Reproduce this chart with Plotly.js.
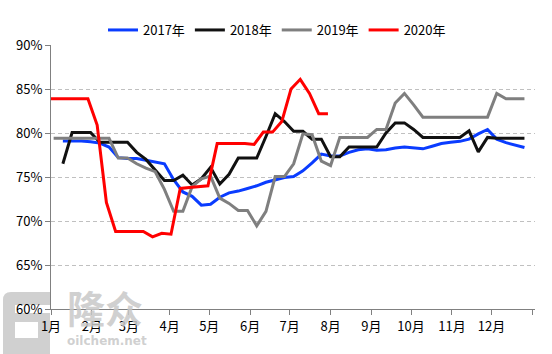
<!DOCTYPE html>
<html>
<head>
<meta charset="utf-8">
<script src="https://cdn.plot.ly/plotly-3.0.1.min.js"></script>
<style>html,body{margin:0;padding:0;background:#fff;}#chart{width:552px;height:354px;}</style>
</head>
<body>
<div id="chart"></div>
<script>
// ---- data (weekly operating rate, %) ----
const seriesNames = ['2017年', '2018年', '2019年', '2020年'];
const monthLabels = ['1月','2月','3月','4月','5月','6月','7月','8月','9月','10月','11月','12月'];
const yTickValues = [60, 65, 70, 75, 80, 85, 90];

const start2017 = '2019-01-10';
const values2017 = [79.1,79.1,79.1,79.0,78.85,78.4,77.2,77.1,77.1,76.9,76.7,76.5,74.7,73.3,72.8,71.8,71.9,72.7,73.2,73.4,
  73.7,74.0,74.4,74.7,74.95,75.05,75.7,76.6,77.6,77.4,77.4,77.8,78.1,78.2,78.05,78.1,78.3,78.4,78.3,78.2,
  78.5,78.8,78.95,79.05,79.3,79.9,80.4,79.3,78.9,78.6,78.35];

const start2018 = '2019-01-10';
const values2018 = [76.5,80.05,80.05,80.05,78.95,78.95,78.95,78.95,77.8,77.0,75.8,74.6,74.6,75.2,74.1,74.8,76.1,74.2,75.3,77.15,
  77.15,77.15,79.6,82.2,81.3,80.2,80.2,79.3,79.3,77.3,77.3,78.4,78.4,78.4,78.4,80.0,81.15,81.15,80.4,79.5,
  79.5,79.5,79.5,79.5,80.25,77.85,79.5,79.4,79.4,79.4,79.4];

const start2019 = '2019-01-03';
const values2019 = [79.4,79.4,79.4,79.4,79.4,79.4,79.4,77.15,77.15,76.5,76.0,75.6,73.6,71.1,71.1,73.9,74.8,75.1,72.6,72.0,
  71.2,71.2,69.45,71.1,75.05,75.05,76.5,79.9,79.8,76.8,76.3,79.5,79.5,79.5,79.5,80.4,80.4,83.4,84.5,83.2,
  81.8,81.8,81.8,81.8,81.8,81.8,81.8,81.8,84.5,83.9,83.9,83.9];

const start2020 = '2019-01-01';
const values2020 = [83.9,83.9,83.9,83.9,83.9,80.9,72.1,68.8,68.8,68.8,68.8,68.2,68.6,68.5,73.7,73.8,73.9,74.0,78.8,78.8,
  78.8,78.8,78.7,80.1,80.1,81.3,85.0,86.1,84.5,82.2,82.2];

const seriesColors = ['#0a3cff', '#111111', '#7f7f7f', '#ff0000'];

// ---- helpers ----
function fmt(d) {
  const y = d.getUTCFullYear();
  const m = String(d.getUTCMonth() + 1).padStart(2, '0');
  const dd = String(d.getUTCDate()).padStart(2, '0');
  return y + '-' + m + '-' + dd;
}
function weeklyDates(start, n) {
  const p = start.split('-').map(Number);
  const out = [];
  for (let i = 0; i < n; i++) out.push(fmt(new Date(Date.UTC(p[0], p[1] - 1, p[2] + 7 * i))));
  return out;
}

const starts = [start2017, start2018, start2019, start2020];
const vals = [values2017, values2018, values2019, values2020];

const traces = vals.map((v, k) => ({
  type: 'scatter', mode: 'lines',
  name: seriesNames[k],
  x: weeklyDates(starts[k], v.length),
  y: v,
  line: { color: seriesColors[k], width: 3 },
  hoverinfo: 'skip'
}));

const tickvals = [];
const ticktext = [];
for (let m = 0; m <= 12; m++) {
  tickvals.push(fmt(new Date(Date.UTC(2019, m, 1))));
  ticktext.push(m < 12 ? monthLabels[m] : '');
}

const font = { family: '"Noto Sans CJK SC", "Noto Sans", sans-serif', size: 13, color: '#000' };
const wmColor = 'rgba(200,200,200,0.85)';

// plot area: left 51px, width 484px, top 45px, height 264px
const L = 51, W = 484, T = 45, H = 264;
const px = x => (x - L) / W;
const py = y => (T + H - y) / H;

const layout = {
  width: 552, height: 354,
  margin: { l: L, r: 552 - L - W, t: T, b: 354 - T - H, pad: 0 },
  paper_bgcolor: '#fff', plot_bgcolor: 'rgba(0,0,0,0)',
  font: font,
  showlegend: true,
  legend: {
    orientation: 'h', x: px(277), xanchor: 'center', y: py(30), yanchor: 'middle',
    font: font, bgcolor: 'rgba(0,0,0,0)', itemwidth: 30
  },
  xaxis: {
    type: 'date',
    range: ['2019-01-01', '2020-01-03'],
    tickmode: 'array', tickvals: tickvals, ticktext: ticktext,
    showgrid: false, zeroline: false,
    showline: true, linecolor: '#808080', linewidth: 1,
    ticks: 'outside', ticklen: 5, tickcolor: '#808080',
    tickfont: font
  },
  yaxis: {
    range: [60, 90],
    tickmode: 'array', tickvals: yTickValues,
    ticktext: yTickValues.map(v => v + '%'),
    showgrid: true, gridcolor: '#c0c0c0', griddash: '4px,3px', gridwidth: 1,
    zeroline: false,
    showline: true, linecolor: '#808080', linewidth: 1,
    ticks: 'outside', ticklen: 5, tickcolor: '#808080',
    tickfont: font
  },
  shapes: [
    // watermark logo (rounded block with a cut-out bar)
    { type: 'path', layer: 'below', xref: 'paper', yref: 'paper', line: { width: 0 }, fillcolor: wmColor,
      path: 'M ' + px(3) + ' ' + py(354) + ' L ' + px(3) + ' ' + py(300) + ' Q ' + px(3) + ' ' + py(292) + ' ' + px(11) + ' ' + py(292) +
            ' L ' + px(50) + ' ' + py(292) + ' L ' + px(50) + ' ' + py(354) + ' Z' },
    { type: 'rect', layer: 'below', xref: 'paper', yref: 'paper', line: { width: 0 }, fillcolor: '#fff',
      x0: px(15), x1: px(50), y0: py(313), y1: py(305) },
    { type: 'rect', layer: 'below', xref: 'paper', yref: 'paper', line: { width: 0 }, fillcolor: '#fff',
      x0: px(15), x1: px(38), y0: py(338), y1: py(322) }
  ],
  annotations: [
    { xref: 'paper', yref: 'paper', x: px(105), y: py(306), xanchor: 'center', yanchor: 'middle',
      text: '<b>隆众</b>', showarrow: false,
      font: { family: '"Noto Sans CJK SC", sans-serif', size: 38, color: wmColor } },
    { xref: 'paper', yref: 'paper', x: px(107), y: py(341), xanchor: 'center', yanchor: 'middle',
      text: '<b>oilchem.net</b>', showarrow: false,
      font: { family: '"DejaVu Sans", sans-serif', size: 12, color: wmColor } }
  ]
};

Plotly.newPlot('chart', traces, layout, { staticPlot: true, displayModeBar: false });
</script>
</body>
</html>
